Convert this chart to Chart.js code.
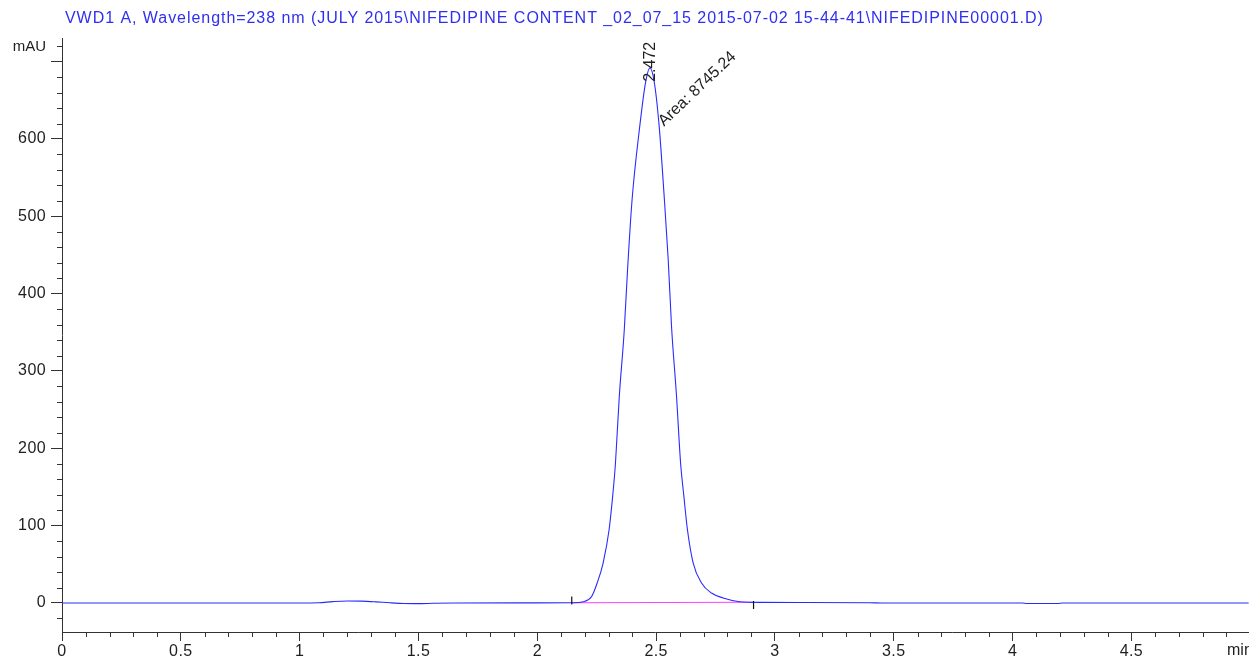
<!DOCTYPE html>
<html>
<head>
<meta charset="utf-8">
<script src="https://cdn.jsdelivr.net/npm/chart.js@4/dist/chart.umd.min.js"></script>
<style>
html,body{margin:0;padding:0;background:#fff;overflow:hidden;}
#wrap{position:relative;width:1254px;height:658px;}
</style>
</head>
<body>
<div id="wrap"><canvas id="c"></canvas></div>
<script>
// ---- data ----
const titleText = "VWD1 A, Wavelength=238 nm (JULY 2015\\NIFEDIPINE CONTENT _02_07_15 2015-07-02 15-44-41\\NIFEDIPINE00001.D)";
const times = [0, 0.5, 1.0, 1.08, 1.14, 1.2, 1.26, 1.32, 1.38, 1.44, 1.5, 1.56, 1.65, 2.0, 2.14,
  2.193, 2.228, 2.252, 2.277, 2.302, 2.317, 2.329, 2.345, 2.366, 2.38, 2.399, 2.431, 2.455, 2.474,
  2.492, 2.513, 2.533, 2.551, 2.565, 2.586, 2.603, 2.617, 2.632, 2.656, 2.691, 2.733, 2.782, 2.852,
  2.94, 3.1, 3.4, 3.45, 4.04, 4.06, 4.19, 4.21, 4.994];
const signal = [0, 0, 0, 0.3, 1.8, 2.6, 2.4, 1.5, 0.3, -0.6, -0.8, -0.4, 0, 0.2, 0.3,
  1.7, 8.1, 25.9, 51.7, 94.4, 137.5, 181, 266.8, 353, 432, 522, 616, 672, 692,
  674, 616, 530, 443.6, 357, 266.8, 181, 137.5, 94.4, 51.7, 25.9, 12.9, 6.5, 1.7,
  0.8, 0.7, 0.4, 0, 0, -0.6, -0.6, 0, 0];
const baselineTimes = [2.145, 2.91];
const baselineValues = [0.3, 1.0];
const eventMarkValues = [3.3, -2.5];
const peakRT = "2.472";
const peakArea = "Area: 8745.24";
const xTicks = [0, 0.5, 1, 1.5, 2, 2.5, 3, 3.5, 4, 4.5];
const yTicks = [0, 100, 200, 300, 400, 500, 600, 700];
const yLabelled = [0, 100, 200, 300, 400, 500, 600];
const yUnit = "mAU";
const xUnit = "min";

const FONT = '"Liberation Sans", Arial, sans-serif';
const TXT = '#1e1e1e';

const trace = times.map((t, i) => ({x: t, y: signal[i]}));
const baseline = baselineTimes.map((t, i) => ({x: t, y: baselineValues[i]}));
const marks = baselineTimes.map((t, i) => ({x: t, y: eventMarkValues[i]}));
const apexIdx = signal.indexOf(Math.max(...signal));

const spacing = {
  id: 'spacing',
  beforeDraw(chart) { chart.ctx.letterSpacing = '0.4px'; }
};

const decor = {
  id: 'decor',
  afterDraw(chart) {
    const ctx = chart.ctx, xs = chart.scales.x, ys = chart.scales.y, a = chart.chartArea;
    ctx.save();
    ctx.letterSpacing = '0px';
    // minor ticks
    ctx.strokeStyle = '#333'; ctx.lineWidth = 1;
    ctx.beginPath();
    for (let v = -20; v <= 720; v += 20) {
      if (v % 100 === 0) continue;
      const py = Math.round(ys.getPixelForValue(v)) + 0.5;
      ctx.moveTo(a.left - 5, py); ctx.lineTo(a.left, py);
    }
    for (let k = 1; k <= 49; k++) {
      if (k % 5 === 0) continue;
      const px = Math.round(xs.getPixelForValue(k / 10)) + 0.5;
      ctx.moveTo(px, a.bottom); ctx.lineTo(px, a.bottom + 5);
    }
    ctx.stroke();
    // title
    ctx.fillStyle = '#2f2ff0';
    ctx.font = '16px ' + FONT;
    ctx.letterSpacing = '0.95px';
    ctx.textAlign = 'left'; ctx.textBaseline = 'middle';
    ctx.fillText(titleText, 65, 19);
    ctx.letterSpacing = '0px';
    // units
    ctx.fillStyle = TXT;
    ctx.font = '15px ' + FONT;
    ctx.textAlign = 'right'; ctx.textBaseline = 'middle';
    ctx.fillText(yUnit, 46, 47);
    ctx.font = '16px ' + FONT;
    ctx.textAlign = 'left';
    ctx.fillText(xUnit, 1227, 651);
    // peak annotations
    const apx = xs.getPixelForValue(times[apexIdx]);
    const apy = ys.getPixelForValue(signal[apexIdx]);
    ctx.save();
    ctx.translate(apx + 1, apy + 14);
    ctx.rotate(-Math.PI / 2);
    ctx.textAlign = 'left'; ctx.textBaseline = 'middle';
    ctx.fillText(peakRT, 0, 0);
    ctx.restore();
    ctx.save();
    ctx.translate(apx + 14, apy + 59);
    ctx.rotate(-0.76);
    ctx.textAlign = 'left'; ctx.textBaseline = 'alphabetic';
    ctx.fillText(peakArea, 0, 0);
    ctx.restore();
    ctx.restore();
  }
};

new Chart(document.getElementById('c'), {
  type: 'line',
  data: {
    datasets: [
      {data: baseline, borderColor: '#ff40ff', borderWidth: 1.2, pointRadius: 0, tension: 0, order: 2},
      {data: trace, borderColor: '#2a2aff', borderWidth: 1.1, pointRadius: 0, cubicInterpolationMode: 'monotone', order: 1},
      {type: 'scatter', data: marks, pointStyle: 'line', rotation: 90, radius: 4, borderColor: '#111', borderWidth: 1.2, backgroundColor: '#111', order: 0}
    ]
  },
  options: {
    responsive: true,
    maintainAspectRatio: false,
    animation: false,
    layout: {padding: {top: 38, right: 0, left: 0, bottom: 0}},
    plugins: {legend: {display: false}, tooltip: {enabled: false}, title: {display: false}},
    scales: {
      x: {
        type: 'linear', min: 0, max: 4.994,
        afterBuildTicks: s => { s.ticks = xTicks.map(v => ({value: v})); },
        afterFit: s => { s.height = 26; },
        ticks: {color: TXT, font: {size: 16, family: FONT}, padding: 1, maxRotation: 0,
          callback: v => String(+Number(v).toFixed(1))},
        grid: {drawOnChartArea: false, color: '#333', tickLength: 9},
        border: {color: '#333', width: 1}
      },
      y: {
        type: 'linear', min: -37.5, max: 730.6,
        afterBuildTicks: s => { s.ticks = yTicks.map(v => ({value: v})); },
        afterFit: s => { s.width = 62; },
        ticks: {color: TXT, font: {size: 16, family: FONT}, padding: 5,
          callback: v => yLabelled.includes(v) ? String(v) : ''},
        grid: {drawOnChartArea: false, color: '#333', tickLength: 11},
        border: {color: '#333', width: 1}
      }
    }
  },
  plugins: [spacing, decor]
});
</script>
</body>
</html>
